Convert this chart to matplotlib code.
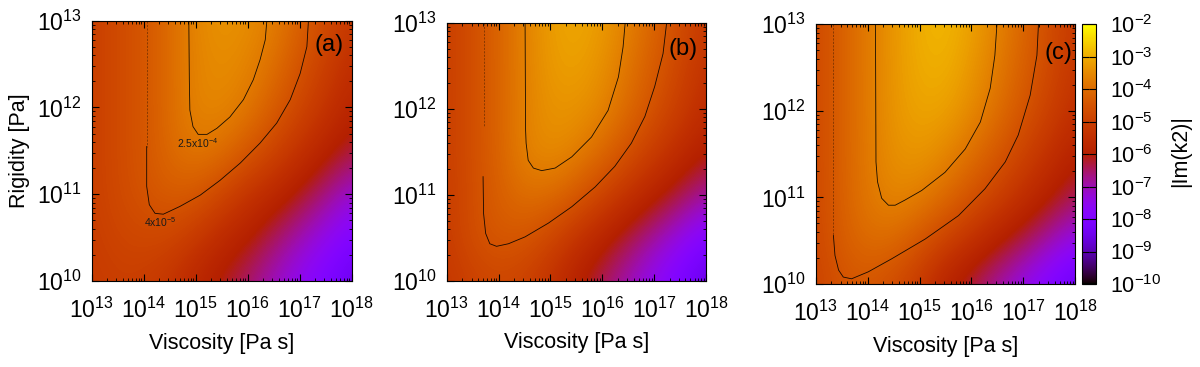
import numpy as np
import matplotlib
matplotlib.use("Agg")
import matplotlib.pyplot as plt
from matplotlib.colors import Normalize
from matplotlib.ticker import FixedLocator, FuncFormatter, NullFormatter

plt.rcParams['font.family'] = ['Liberation Sans', 'DejaVu Sans']
plt.rcParams['mathtext.fontset'] = 'custom'
plt.rcParams['mathtext.rm'] = 'Liberation Sans'
plt.rcParams['mathtext.it'] = 'Liberation Sans:italic'

# grid nodes (log10 of viscosity [Pa s] and rigidity [Pa])
visc_exp = [13.0, 13.5, 14.0, 14.5, 15.0, 15.5, 16.0, 16.5, 17.0, 17.5, 18.0]
rig_exp = [10.0, 10.5, 11.0, 11.5, 12.0, 12.5, 13.0]

imk2_a = [
    [-5.10, -5.00, -5.05, -5.30, -5.75, -6.15, -6.60, -7.10, -7.60, -8.10, -8.60],
    [-5.05, -4.85, -4.75, -4.80, -5.15, -5.60, -5.95, -6.50, -7.00, -7.50, -8.00],
    [-5.00, -4.72, -4.50, -4.30, -4.38, -4.80, -5.30, -5.65, -6.15, -6.70, -7.25],
    [-5.00, -4.70, -4.45, -4.05, -3.80, -3.95, -4.38, -4.85, -5.35, -5.85, -6.30],
    [-5.00, -4.70, -4.45, -4.00, -3.58, -3.55, -3.80, -4.30, -4.80, -5.30, -5.80],
    [-5.00, -4.70, -4.45, -4.00, -3.60, -3.45, -3.60, -3.95, -4.50, -5.00, -5.50],
    [-5.00, -4.70, -4.45, -4.00, -3.55, -3.35, -3.45, -3.70, -4.20, -4.70, -5.20],
]
imk2_b = [
    [-5.20, -4.95, -4.80, -4.95, -5.35, -5.95, -6.50, -7.05, -7.60, -8.15, -8.70],
    [-5.10, -4.60, -4.38, -4.45, -4.80, -5.30, -5.80, -6.35, -6.90, -7.45, -8.00],
    [-5.05, -4.62, -4.25, -3.95, -4.00, -4.35, -4.85, -5.35, -5.85, -6.35, -6.85],
    [-5.00, -4.60, -4.17, -3.62, -3.45, -3.65, -4.05, -4.55, -5.05, -5.55, -6.00],
    [-5.00, -4.60, -4.15, -3.65, -3.35, -3.35, -3.58, -4.05, -4.55, -5.05, -5.55],
    [-5.00, -4.60, -4.15, -3.63, -3.25, -3.15, -3.40, -3.85, -4.33, -4.85, -5.35],
    [-5.00, -4.60, -4.15, -3.62, -3.20, -3.05, -3.25, -3.65, -4.15, -4.65, -5.15],
]
imk2_c = [
    [-4.90, -4.50, -4.45, -4.70, -5.15, -5.90, -6.40, -6.95, -7.50, -8.05, -8.60],
    [-4.80, -4.30, -4.00, -4.05, -4.45, -4.90, -5.40, -5.90, -6.40, -6.95, -7.50],
    [-4.77, -4.22, -3.80, -3.55, -3.70, -4.05, -4.50, -4.95, -5.45, -5.95, -6.45],
    [-4.75, -4.20, -3.77, -3.40, -3.30, -3.55, -3.95, -4.40, -4.90, -5.40, -5.90],
    [-4.75, -4.20, -3.75, -3.32, -3.10, -3.15, -3.50, -3.95, -4.45, -4.95, -5.45],
    [-4.75, -4.20, -3.75, -3.30, -3.00, -2.95, -3.30, -3.75, -4.25, -4.75, -5.25],
    [-4.75, -4.20, -3.75, -3.30, -2.95, -2.85, -3.15, -3.60, -4.10, -4.65, -5.15],
]

# contour |Im(k2)| = 4e-5 (outer) and 2.5e-4 (inner), as (log10 visc, log10 rig)
# faint: the thin dotted top of the outer left branch
faint_a = [(14.06, 13.0), (14.06, 11.55)]
cont_a_outer = [(14.06, 11.55), (14.06, 11.09), (14.11, 10.88), (14.22, 10.78), (14.38, 10.77),
                (14.70, 10.86), (15.09, 10.99), (15.47, 11.16), (15.86, 11.36), (16.24, 11.59),
                (16.56, 11.82), (16.82, 12.09), (17.01, 12.39), (17.14, 12.70), (17.17, 13.0)]
cont_a_inner = [(14.87, 13.0), (14.88, 12.32), (14.89, 11.97), (14.95, 11.78), (15.05, 11.69),
                (15.22, 11.69), (15.41, 11.76), (15.66, 11.89), (15.92, 12.09), (16.11, 12.32),
                (16.24, 12.55), (16.34, 12.78), (16.37, 13.0)]
faint_b = [(13.71, 13.0), (13.71, 11.79)]
cont_b_outer = [(13.70, 11.21), (13.71, 10.78), (13.75, 10.55), (13.83, 10.43), (13.96, 10.40),
                (14.19, 10.43), (14.51, 10.51), (14.96, 10.67), (15.41, 10.86), (15.86, 11.09),
                (16.24, 11.33), (16.56, 11.60), (16.82, 11.91), (17.01, 12.26), (17.17, 12.64),
                (17.24, 13.0)]
cont_b_inner = [(14.51, 13.0), (14.52, 11.75), (14.53, 11.60), (14.57, 11.40), (14.67, 11.31),
                (14.83, 11.28), (15.09, 11.31), (15.41, 11.44), (15.79, 11.67), (16.11, 11.98),
                (16.31, 12.37), (16.40, 12.72), (16.44, 13.0)]
faint_c = [(13.34, 13.0), (13.34, 10.56)]
cont_c_outer = [(13.34, 10.56), (13.37, 10.33), (13.44, 10.16), (13.53, 10.08), (13.69, 10.06),
                (14.01, 10.14), (14.46, 10.29), (15.11, 10.52), (15.75, 10.79), (16.26, 11.10),
                (16.65, 11.41), (16.90, 11.72), (17.13, 12.18), (17.26, 12.64), (17.29, 13.0)]
cont_c_inner = [(14.15, 13.0), (14.16, 11.41), (14.19, 11.18), (14.27, 10.99), (14.40, 10.91),
                (14.53, 10.91), (14.72, 10.97), (15.04, 11.08), (15.49, 11.29), (15.88, 11.56),
                (16.17, 11.87), (16.36, 12.26), (16.45, 12.64), (16.49, 13.0)]

panel_tags = ['(a)', '(b)', '(c)']
cbar_exp = [-10, -9, -8, -7, -6, -5, -4, -3, -2]


def pow10(v, pos):
    return r'$\mathdefault{10^{%d}}$' % int(round(v))


def minor_marks(lo, hi):
    return [n + np.log10(k) for n in range(lo, hi) for k in range(2, 10)]


fig = plt.figure(figsize=(12, 3.67), dpi=100)
positions = [[0.0763, 0.2343, 0.2167, 0.7093],
             [0.3723, 0.2351, 0.2161, 0.7030],
             [0.6798, 0.2262, 0.2163, 0.7076]]
tag_pos = [(0.971, 0.905), (0.969, 0.898), (0.990, 0.891)]

norm = Normalize(vmin=-10, vmax=-2)
half_x = (visc_exp[1] - visc_exp[0]) / 2
half_y = (rig_exp[1] - rig_exp[0]) / 2
extent = [visc_exp[0] - half_x, visc_exp[-1] + half_x, rig_exp[0] - half_y, rig_exp[-1] + half_y]

fields = [imk2_a, imk2_b, imk2_c]
contours = [(faint_a, cont_a_outer, cont_a_inner),
            (faint_b, cont_b_outer, cont_b_inner),
            (faint_c, cont_c_outer, cont_c_inner)]

for i in range(3):
    ax = fig.add_axes(positions[i])
    im = ax.imshow(np.array(fields[i]), origin='lower', extent=extent, aspect='auto',
                   cmap='gnuplot', norm=norm, interpolation='bicubic',
                   interpolation_stage='data')
    faint = np.array(contours[i][0])
    outer = np.array(contours[i][1])
    inner = np.array(contours[i][2])
    ax.plot(faint[:, 0], faint[:, 1], color='black', lw=0.5, alpha=0.5, ls=(0, (3, 2)))
    ax.plot(outer[:, 0], outer[:, 1], color='black', lw=0.6, alpha=0.9)
    ax.plot(inner[:, 0], inner[:, 1], color='black', lw=0.6, alpha=0.9)

    ax.set_xlim(13, 18)
    ax.set_ylim(10, 13)
    ax.xaxis.set_major_locator(FixedLocator(range(13, 19)))
    ax.yaxis.set_major_locator(FixedLocator(range(10, 14)))
    ax.xaxis.set_minor_locator(FixedLocator(minor_marks(13, 18)))
    ax.yaxis.set_minor_locator(FixedLocator(minor_marks(10, 13)))
    ax.xaxis.set_major_formatter(FuncFormatter(pow10))
    ax.yaxis.set_major_formatter(FuncFormatter(pow10))
    ax.xaxis.set_minor_formatter(NullFormatter())
    ax.yaxis.set_minor_formatter(NullFormatter())
    ax.tick_params(which='both', direction='in', top=True, right=True, color='black')
    ax.tick_params(which='major', length=5, width=0.8, labelsize=16.5)
    ax.tick_params(which='minor', length=2.5, width=0.6)
    ax.tick_params(axis='x', which='major', pad=12)
    ax.tick_params(axis='y', which='major', pad=7)
    for sp in ax.spines.values():
        sp.set_linewidth(0.8)

    ax.set_xlabel('Viscosity [Pa s]', fontsize=15.5, labelpad=7)
    if i == 0:
        ax.set_ylabel('Rigidity [Pa]', fontsize=15.5)
        ax.yaxis.set_label_coords(-0.236, 0.5)
        ax.text(14.64, 11.59, r'2.5x10$^{-4}$', fontsize=7.5, va='center', color='#1a1a1a')
        ax.text(14.01, 10.68, r'4x10$^{-5}$', fontsize=7.5, va='center', color='#1a1a1a')

    ax.text(tag_pos[i][0], tag_pos[i][1], panel_tags[i], transform=ax.transAxes,
            ha='right', va='center', fontsize=17)

cax = fig.add_axes([0.9019, 0.2262, 0.0112, 0.7076])
cb = fig.colorbar(im, cax=cax)
cb.set_ticks(cbar_exp)
cax.yaxis.set_major_formatter(FuncFormatter(pow10))
cb.minorticks_off()
cb.outline.set_linewidth(0.8)
cax.tick_params(direction='in', left=True, right=True, length=5, width=0.8,
                labelsize=15.5, pad=10, color='black')
fig.text(1181 / 1200, 1 - 151 / 367, '|Im(k2)|', rotation=90, ha='center', va='center', fontsize=15.5)

fig.savefig('out.png', dpi=100)
